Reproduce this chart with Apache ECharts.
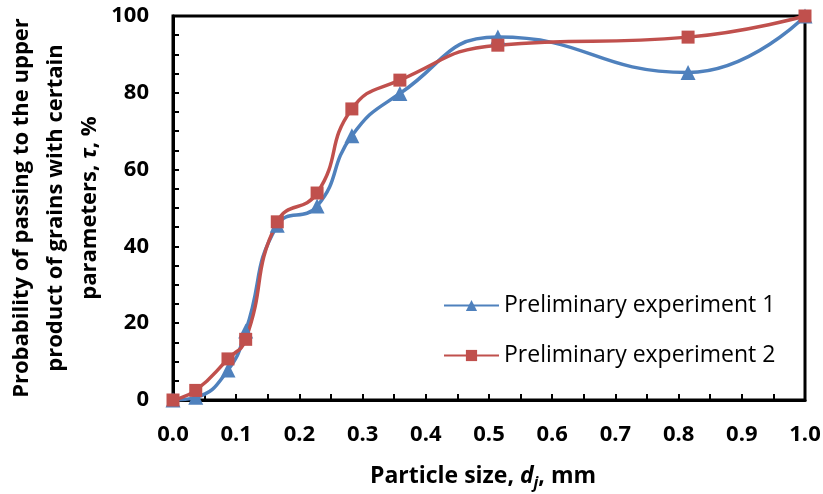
<!DOCTYPE html>
<html>
<head>
<meta charset="utf-8">
<script src="https://cdn.jsdelivr.net/npm/echarts@6/dist/echarts.min.js"></script>
<style>
  html, body { margin: 0; padding: 0; background: #ffffff; }
  #chart { width: 823px; height: 494px; }
</style>
</head>
<body>
<div id="chart"></div>
<script>
// particle size, mm (shared by both experiments)
const sizes = [0, 0.036, 0.087, 0.115, 0.165, 0.228, 0.283, 0.359, 0.514, 0.815, 1.0]
// probability of passing, %
const experiment1 = [0, 0.7, 7.8, 18, 45.5, 50.5, 68.8, 79.8, 94.5, 85.3, 100]
const experiment2 = [0, 2.5, 10.7, 15.8, 46.4, 53.9, 75.8, 83.3, 92.4, 94.5, 100]
const seriesNames = ['Preliminary experiment 1', 'Preliminary experiment 2']

const FONT = 'Open Sans'
const chart = echarts.init(document.getElementById('chart'))

const pairs = (ys) => sizes.map((x, i) => [x, ys[i]])

chart.setOption({
  backgroundColor: '#ffffff',
  animation: false,
  textStyle: { fontFamily: FONT },
  grid: {
    left: 173,
    right: 18,
    top: 16,
    bottom: 94,
    outerBoundsMode: 'none',
    show: true,
    borderColor: '#000',
    borderWidth: 3
  },
  legend: {
    orient: 'vertical',
    left: 438,
    top: 289,
    itemWidth: 55,
    itemHeight: 14,
    itemGap: 27,
    textStyle: { fontSize: 23, color: '#000', fontFamily: FONT },
    data: seriesNames
  },
  xAxis: {
    type: 'value',
    min: 0,
    max: 1,
    interval: 0.1,
    splitLine: { show: false },
    axisLine: { lineStyle: { color: '#000', width: 3 } },
    axisTick: { inside: true, length: 6, lineStyle: { color: '#000', width: 2 } },
    minorTick: { show: true, splitNumber: 2, length: 6, lineStyle: { color: '#000', width: 2 } },
    axisLabel: {
      margin: 24,
      fontSize: 22,
      fontWeight: 'bold',
      color: '#000',
      formatter: (v) => v.toFixed(1)
    },
    name: 'Particle size, {i|d}{sub|j}, mm',
    nameLocation: 'middle',
    nameGap: 62,
    nameMoveOverlap: false,
    nameTextStyle: {
      fontSize: 23,
      fontWeight: 'bold',
      color: '#000',
      padding: [0, 12, 0, 0],
      rich: {
        i: { fontSize: 23, fontWeight: 'bold', fontStyle: 'italic', color: '#000' },
        sub: { fontSize: 16, fontWeight: 'bold', fontStyle: 'italic', color: '#000', padding: [13, 0, 0, 0] }
      }
    }
  },
  yAxis: {
    type: 'value',
    min: 0,
    max: 100,
    interval: 20,
    splitLine: { show: false },
    axisLine: { lineStyle: { color: '#000', width: 3 } },
    axisTick: { inside: true, length: 6, lineStyle: { color: '#000', width: 2 } },
    minorTick: { show: true, splitNumber: 4, length: 6, lineStyle: { color: '#000', width: 2 } },
    axisLabel: { margin: 24, fontSize: 22, fontWeight: 'bold', color: '#000' },
    name: 'Probability of passing to the upper\nproduct of grains with certain\nparameters, {i|τ}, %',
    nameLocation: 'middle',
    nameGap: 66,
    nameMoveOverlap: false,
    nameRotate: 90,
    nameTextStyle: {
      fontSize: 22,
      fontWeight: 'bold',
      color: '#000',
      lineHeight: 34,
      align: 'center',
      rich: {
        i: { fontSize: 22, fontWeight: 'bold', fontStyle: 'italic', color: '#000', lineHeight: 34 }
      }
    }
  },
  series: [
    {
      name: seriesNames[0],
      type: 'line',
      smooth: true,
      data: pairs(experiment1),
      symbol: 'triangle',
      symbolSize: 15,
      color: '#4F81BD',
      lineStyle: { width: 3.5, color: '#4F81BD' },
      itemStyle: { color: '#4F81BD' }
    },
    {
      name: seriesNames[1],
      type: 'line',
      smooth: true,
      data: pairs(experiment2),
      symbol: 'rect',
      symbolSize: 13,
      color: '#C0504D',
      lineStyle: { width: 3.5, color: '#C0504D' },
      itemStyle: { color: '#C0504D' }
    }
  ]
})
</script>
</body>
</html>
